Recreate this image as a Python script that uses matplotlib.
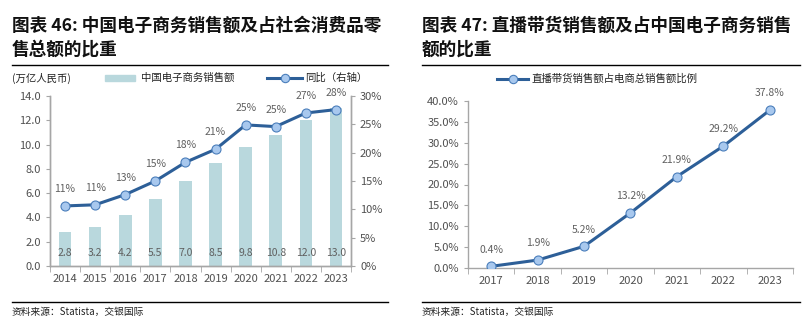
import numpy as np
import matplotlib as mpl
import matplotlib.pyplot as plt

plt.rcParams['font.family'] = ['Noto Sans CJK SC', 'DejaVu Sans']

# Data
years_l = ['2014', '2015', '2016', '2017', '2018', '2019', '2020', '2021', '2022', '2023']
sales = [2.8, 3.2, 4.2, 5.5, 7.0, 8.5, 9.8, 10.8, 12.0, 13.0]
share = [10.6, 10.8, 12.6, 15.0, 18.3, 20.6, 24.9, 24.6, 27.0, 27.6]
share_lbl = ['11%', '11%', '13%', '15%', '18%', '21%', '25%', '25%', '27%', '28%']

years_r = ['2017', '2018', '2019', '2020', '2021', '2022', '2023']
live = [0.4, 1.9, 5.2, 13.2, 21.9, 29.2, 37.8]

BAR = '#b9d8dd'
LINE = '#2d5f98'
MFACE = '#a8c8ee'
MEDGE = '#4a7ebb'
SPINE = '#a6a6a6'
TXT = '#505050'

W, H = 811, 332
fig = plt.figure(figsize=(W / 100, H / 100), dpi=100)


def px(x0, y0, x1, y1):
    # pixel box (top-left origin) -> figure fraction
    return [x0 / W, 1 - y1 / H, (x1 - x0) / W, (y1 - y0) / H]


def ftext(x, y, s, **kw):
    fig.text(x / W, 1 - y / H, s, **kw)


def style(ax):
    ax.spines['top'].set_visible(False)
    for s in ['left', 'bottom', 'right']:
        ax.spines[s].set_color(SPINE)
        ax.spines[s].set_linewidth(1.0)
    ax.tick_params(colors=SPINE, labelcolor=TXT, labelsize=8, length=3,
                   direction='out')


# Titles and rules
tkw = dict(fontsize=12.7, fontweight='bold', va='center', color='#111111')
ftext(12, 26, '图表 46: 中国电子商务销售额及占社会消费品零', **tkw)
ftext(12, 50, '售总额的比重', **tkw)
ftext(422, 26, '图表 47: 直播带货销售额及占中国电子商务销售', **tkw)
ftext(422, 50, '额的比重', **tkw)
for (a, b) in [(12, 388), (422, 800)]:
    fig.add_artist(mpl.lines.Line2D([a / W, b / W], [1 - 65 / H] * 2, color='black', lw=1))
    fig.add_artist(mpl.lines.Line2D([a / W, b / W], [1 - 302 / H] * 2, color='black', lw=1))
ftext(12, 312, '资料来源：Statista，交银国际', fontsize=7, va='center', color='#222222')
ftext(422, 312, '资料来源：Statista，交银国际', fontsize=7, va='center', color='#222222')

# Left chart
ax = fig.add_axes(px(50, 96, 351, 266))
x = np.arange(len(years_l))
ax.bar(x, sales, width=0.42, color=BAR, zorder=1)
for xi, v in zip(x, sales):
    ax.text(xi, 1.1, f'{v:.1f}', ha='center', va='center', fontsize=7.5, color='#606060')
ax.set_xlim(-0.5, len(x) - 0.5)
ax.set_ylim(0, 14)
ax.set_yticks(np.arange(0, 14.1, 2))
ax.set_yticklabels([f'{v:.1f}' for v in np.arange(0, 14.1, 2)])
ax.set_xticks(x)
ax.set_xticklabels(years_l)
ax.set_xticks(np.arange(-0.5, len(x), 1), minor=True)
style(ax)
ax.tick_params(axis='x', which='major', length=0, pad=6)
ax.tick_params(axis='x', which='minor', length=4, color=SPINE)

ax2 = ax.twinx()
ax2.plot(x, share, color=LINE, lw=2.2, marker='o', ms=6.5, mfc=MFACE, mec=MEDGE,
         mew=0.8, zorder=3)
for xi, v, t in zip(x, share, share_lbl):
    ax2.text(xi, v + 3.0, t, ha='center', va='center', fontsize=7.5, color='#606060')
ax2.set_ylim(0, 30)
ax2.set_yticks(np.arange(0, 31, 5))
ax2.set_yticklabels([f'{v}%' for v in range(0, 31, 5)])
style(ax2)

# Left legend
ftext(12, 78, '(万亿人民币)', fontsize=7.5, va='center', color='#222222')
fig.add_artist(mpl.patches.Rectangle((105 / W, 1 - 81 / H), 30 / W, 6 / H, color=BAR))
ftext(141, 78, '中国电子商务销售额', fontsize=7.5, va='center', color='#222222')
fig.add_artist(mpl.lines.Line2D([267 / W, 302 / W], [1 - 78 / H] * 2, color=LINE, lw=2.2))
fig.add_artist(mpl.lines.Line2D([284.5 / W], [1 - 78 / H], color=LINE, marker='o', ms=6,
                                mfc=MFACE, mec=MEDGE, mew=0.8))
ftext(305, 78, '同比（右轴）', fontsize=7.5, va='center', color='#222222')

# Right chart
axr = fig.add_axes(px(468, 101, 793, 268))
xr = np.arange(len(years_r))
axr.plot(xr, live, color=LINE, lw=2.2, marker='o', ms=6.5, mfc=MFACE, mec=MEDGE,
         mew=0.8, zorder=3)
for xi, v in zip(xr, live):
    axr.text(xi, v + 4.0, f'{v:.1f}%', ha='center', va='center', fontsize=7.5, color='#606060')
axr.set_xlim(-0.5, len(xr) - 0.5)
axr.set_ylim(0, 40)
axr.set_yticks(np.arange(0, 41, 5))
axr.set_yticklabels([f'{v:.1f}%' for v in range(0, 41, 5)])
axr.set_xticks(xr)
axr.set_xticklabels(years_r)
axr.set_xticks(np.arange(-0.5, len(xr), 1), minor=True)
style(axr)
axr.spines['right'].set_visible(False)
axr.tick_params(axis='x', which='major', length=0, pad=6)
axr.tick_params(axis='x', which='minor', length=4, color=SPINE)

fig.add_artist(mpl.lines.Line2D([497 / W, 528 / W], [1 - 79 / H] * 2, color=LINE, lw=2.2))
fig.add_artist(mpl.lines.Line2D([512.5 / W], [1 - 79 / H], color=LINE, marker='o', ms=6,
                                mfc=MFACE, mec=MEDGE, mew=0.8))
ftext(531, 79, '直播带货销售额占电商总销售额比例', fontsize=7.5, va='center', color='#222222')

fig.savefig('out.png', dpi=100)
